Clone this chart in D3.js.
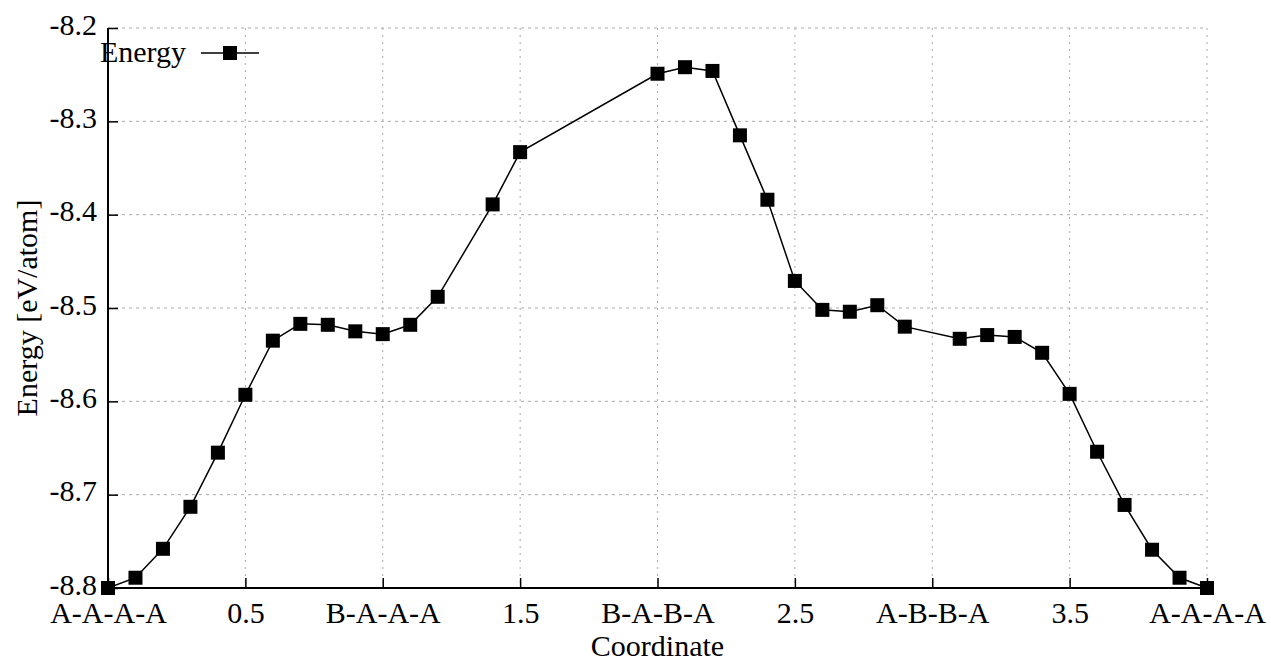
<!DOCTYPE html>
<html>
<head>
<meta charset="utf-8">
<script src="https://cdn.jsdelivr.net/npm/d3@7"></script>
<style>
  body { margin: 0; background: #fff; }
  text { font-family: "Liberation Serif", "DejaVu Serif", serif; fill: #000; }
</style>
</head>
<body>
<svg id="chart" width="1271" height="664"></svg>
<script>
// Data.
var coords = [0, 0.1, 0.2, 0.3, 0.4, 0.5, 0.6, 0.7, 0.8, 0.9, 1.0, 1.1, 1.2, 1.4, 1.5,
              2.0, 2.1, 2.2, 2.3, 2.4, 2.5, 2.6, 2.7, 2.8, 2.9, 3.1, 3.2, 3.3, 3.4, 3.5,
              3.6, 3.7, 3.8, 3.9, 4.0];
var energy = [-8.800, -8.789, -8.758, -8.713, -8.655, -8.593, -8.535, -8.517, -8.518, -8.525,
              -8.528, -8.518, -8.488, -8.389, -8.333, -8.249, -8.242, -8.246, -8.315, -8.384,
              -8.471, -8.502, -8.504, -8.497, -8.520, -8.533, -8.529, -8.531, -8.548, -8.592,
              -8.654, -8.711, -8.759, -8.789, -8.800];
var xTicks = [0, 0.5, 1, 1.5, 2, 2.5, 3, 3.5, 4];
var xTickLabels = ["A-A-A-A", "0.5", "B-A-A-A", "1.5", "B-A-B-A", "2.5", "A-B-B-A", "3.5", "A-A-A-A"];
var yTicks = [-8.8, -8.7, -8.6, -8.5, -8.4, -8.3, -8.2];
var yTickLabels = ["-8.8", "-8.7", "-8.6", "-8.5", "-8.4", "-8.3", "-8.2"];

var svg = d3.select("#chart");
var fontFamily = "'Liberation Serif', 'DejaVu Serif', serif";
var fontSize = "30px";
var mLeft = 108, mRight = 1207, mTop = 28, mBottom = 588;

var x = d3.scaleLinear().domain([0, 4]).range([mLeft, mRight]);
var y = d3.scaleLinear().domain([-8.8, -8.2]).range([mBottom, mTop]);

// grid lines
svg.append("g").selectAll("line")
  .data(yTicks)
  .enter().append("line")
  .attr("x1", mLeft).attr("x2", mRight)
  .attr("y1", function(d) { return y(d); })
  .attr("y2", function(d) { return y(d); })
  .attr("stroke", "#aaa")
  .attr("stroke-width", 1)
  .attr("stroke-dasharray", "3,4");

svg.append("g").selectAll("line")
  .data(xTicks)
  .enter().append("line")
  .attr("x1", function(d) { return x(d); })
  .attr("x2", function(d) { return x(d); })
  .attr("y1", mTop).attr("y2", mBottom)
  .attr("stroke", "#aaa")
  .attr("stroke-width", 1)
  .attr("stroke-dasharray", "2,5");

// axes, ticks drawn inward
var xAxis = d3.axisBottom(x)
  .tickValues(xTicks)
  .tickSize(-10)
  .tickPadding(13)
  .tickFormat(function(d, i) { return xTickLabels[i]; });

var yAxis = d3.axisLeft(y)
  .tickValues(yTicks)
  .tickSize(-10)
  .tickPadding(11)
  .tickFormat(function(d, i) { return yTickLabels[i]; });

var gx = svg.append("g")
  .attr("transform", "translate(0," + mBottom + ")")
  .call(xAxis);
var gy = svg.append("g")
  .attr("transform", "translate(" + mLeft + ",0)")
  .call(yAxis);

[gx, gy].forEach(function(g) {
  g.attr("font-family", fontFamily).attr("font-size", fontSize);
  g.select(".domain").attr("stroke", "#000").attr("stroke-width", 2);
  g.selectAll(".tick line").attr("stroke", "#000").attr("stroke-width", 1.5);
  g.selectAll(".tick text").attr("fill", "#000");
});
gx.select(".domain").attr("d", "M" + mLeft + ",0H" + mRight);
gy.select(".domain").attr("d", "M0," + mBottom + "V" + mTop);
gx.selectAll(".tick text").attr("dy", "0.72em");
gy.selectAll(".tick text").attr("dy", "0.2em");

// axis titles
svg.append("text")
  .attr("x", (mLeft + mRight) / 2)
  .attr("y", 656)
  .attr("text-anchor", "middle")
  .attr("font-family", fontFamily)
  .attr("font-size", fontSize)
  .text("Coordinate");

svg.append("text")
  .attr("transform", "translate(37," + (mTop + mBottom) / 2 + ") rotate(-90)")
  .attr("text-anchor", "middle")
  .attr("font-family", fontFamily)
  .attr("font-size", fontSize)
  .text("Energy [eV/atom]");

// data line and markers
var line = d3.line()
  .x(function(d, i) { return x(coords[i]); })
  .y(function(d) { return y(d); });

svg.append("path")
  .datum(energy)
  .attr("d", line)
  .attr("fill", "none")
  .attr("stroke", "#000")
  .attr("stroke-width", 1.5);

var ms = 14;
svg.append("g").selectAll("rect")
  .data(energy)
  .enter().append("rect")
  .attr("x", function(d, i) { return x(coords[i]) - ms / 2; })
  .attr("y", function(d) { return y(d) - ms / 2; })
  .attr("width", ms)
  .attr("height", ms)
  .attr("fill", "#000");

// legend
var lg = svg.append("g");
lg.append("text")
  .attr("x", 186).attr("y", 62)
  .attr("text-anchor", "end")
  .attr("font-family", fontFamily)
  .attr("font-size", fontSize)
  .text("Energy");
lg.append("line")
  .attr("x1", 201).attr("x2", 259)
  .attr("y1", 53).attr("y2", 53)
  .attr("stroke", "#000").attr("stroke-width", 1.5);
lg.append("rect")
  .attr("x", 230 - ms / 2).attr("y", 53 - ms / 2)
  .attr("width", ms).attr("height", ms)
  .attr("fill", "#000");
</script>
</body>
</html>
